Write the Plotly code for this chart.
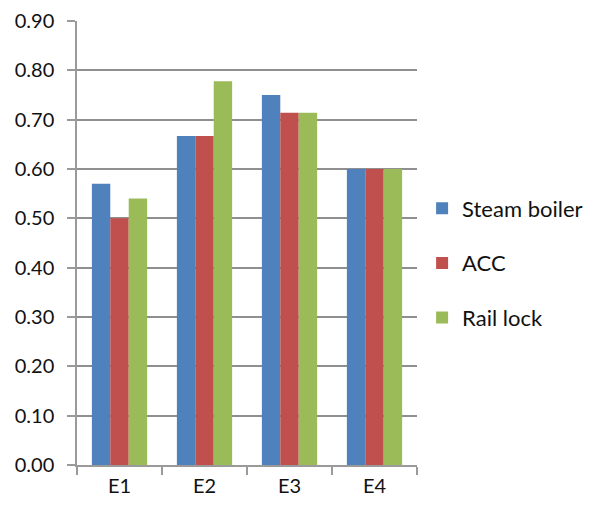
import plotly.graph_objects as go

categories = ["E1", "E2", "E3", "E4"]
steam_boiler = [0.57, 0.667, 0.75, 0.60]
acc = [0.50, 0.667, 0.714, 0.60]
rail_lock = [0.54, 0.778, 0.714, 0.60]
y_ticks = [0.0, 0.1, 0.2, 0.3, 0.4, 0.5, 0.6, 0.7, 0.8, 0.9]

series = [
    ("Steam boiler", steam_boiler, "#4F81BD"),
    ("ACC", acc, "#C0504D"),
    ("Rail lock", rail_lock, "#9BBB59"),
]

fig = go.Figure()
for i, (name, vals, color) in enumerate(series):
    fig.add_trace(go.Bar(
        x=categories, y=vals, name=name,
        marker=dict(color=color, line=dict(width=0)),
        legendgroup=f"g{i}",
    ))

font_family = "Lato, 'Open Sans', sans-serif"
axis_color = "#9a9a9a"
text_color = "#111111"

fig.update_layout(
    width=590, height=506,
    margin=dict(l=77, r=173, t=21, b=41, autoexpand=False),
    paper_bgcolor="white", plot_bgcolor="white",
    barmode="group", bargap=0.35, bargroupgap=0,
    font=dict(family=font_family, size=20, color=text_color),
    showlegend=True,
    legend=dict(
        x=1.015, xanchor="left", y=0.455, yanchor="middle",
        traceorder="grouped", tracegroupgap=23,
        font=dict(size=22, family=font_family, color=text_color),
        bgcolor="rgba(0,0,0,0)",
    ),
    xaxis=dict(
        type="category", range=[-0.5, 3.5], automargin=False,
        showline=True, linecolor=axis_color, linewidth=1.5,
        ticks="outside", tickson="boundaries", ticklen=8,
        tickcolor=axis_color, tickwidth=1.5,
        tickfont=dict(size=20), showgrid=False,
        ticklabelstandoff=2,
    ),
    yaxis=dict(
        range=[0, 0.9], tickvals=y_ticks, automargin=False,
        ticktext=[f"{v:.2f}" for v in y_ticks],
        showline=True, linecolor=axis_color, linewidth=1.5,
        ticks="outside", ticklen=8, tickcolor=axis_color, tickwidth=1.5,
        showgrid=True, gridcolor="#8f8f8f", gridwidth=1.5,
        zeroline=False, tickfont=dict(size=20),
        ticklabelstandoff=9,
    ),
)

fig.write_html("out.html")
